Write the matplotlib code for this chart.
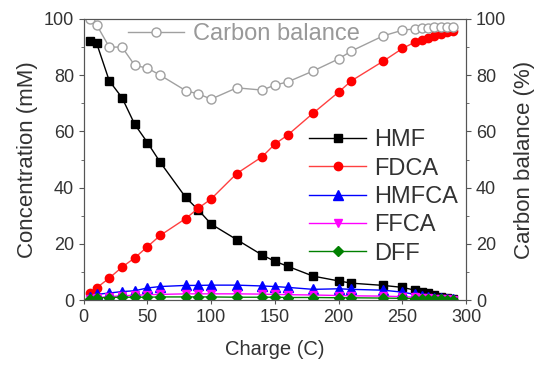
import matplotlib.pyplot as plt
from matplotlib.ticker import MultipleLocator

plt.rcParams['font.family'] = ['Liberation Sans', 'DejaVu Sans']

##### Data #####
charge = [5, 10, 20, 30, 40, 50, 60, 80, 90, 100, 120, 140, 150, 160, 180,
          200, 210, 235, 250, 260, 265, 270, 275, 280, 285, 290]
hmf = [92, 91.5, 78, 72, 62.5, 56, 49, 36.5, 32, 27, 21.5, 16, 13.8, 12, 8.5,
       6.8, 6, 5.2, 4.5, 3.5, 3, 2.5, 1.8, 1.2, 0.7, 0.3]
fdca = [2.4, 4.3, 7.8, 11.7, 15, 19, 23, 29, 32.7, 36, 45, 51, 55.5, 58.7, 66.5,
        74, 78, 85, 89.5, 91.8, 92.5, 93.3, 94, 94.6, 95.2, 95.8]
hmfca = [1.2, 2, 2.5, 3, 3.3, 4.3, 4.8, 5.2, 5.2, 5.3, 5.3, 5, 4.8, 4.5, 3.8,
         4, 3.8, 3.5, 2.8, 2, 1.6, 1.2, 0.9, 0.6, 0.4, 0.2]
ffca = [0.4, 0.8, 1.2, 1.5, 1.7, 1.9, 2.0, 2.2, 2.2, 2.2, 2.2, 2.1, 2.0, 1.9, 1.8,
        1.6, 1.5, 1.4, 1.2, 1.0, 0.8, 0.6, 0.5, 0.3, 0.2, 0.1]
dff = [0.5, 0.8, 0.9, 1.0, 1.0, 1.0, 1.1, 1.1, 1.1, 1.1, 1.0, 1.0, 1.0, 0.9, 0.9,
       0.8, 0.8, 0.7, 0.6, 0.5, 0.4, 0.3, 0.3, 0.2, 0.1, 0.1]
carbon = [100, 98, 90, 90, 83.5, 82.5, 80, 74.5, 73.3, 71.5, 75.5, 74.7, 76.5, 77.6, 81.5,
          85.8, 88.6, 94, 96, 96.5, 96.7, 96.8, 97, 97, 97, 97]

##### Plot #####
fig = plt.figure(figsize=(5.37, 3.65), dpi=100)
ax = fig.add_axes([0.156, 0.178, 0.712, 0.770])
ax2 = ax.twinx()

ax.plot(charge, hmf, '-s', color='black', lw=1, ms=5.5, label='HMF')
ax.plot(charge, fdca, '-o', color='#ff4040', mfc='#ff0000', mec='#ff0000', lw=1,
        ms=6, label='FDCA')
ax.plot(charge, hmfca, '-^', color='#0000ff', lw=1, ms=6.5, label='HMFCA')
ax.plot(charge, ffca, '-v', color='#ff00ff', lw=1, ms=6, label='FFCA')
ax.plot(charge, dff, '-D', color='#008000', lw=1, ms=5, label='DFF')
ax2.plot(charge, carbon, '-o', color='#a0a0a0', mfc='white', mec='#a0a0a0', lw=1,
         ms=6.5, label='Carbon balance')

ax.set_xlim(0, 300)
ax.set_ylim(0, 100)
ax2.set_ylim(0, 100)

txt = '#333333'
for a in (ax, ax2):
    for s in a.spines.values():
        s.set_color('#555555')
    a.tick_params(which='both', direction='out', colors='#555555', labelcolor=txt,
                  labelsize=13)
    a.yaxis.set_minor_locator(MultipleLocator(10))
ax.tick_params(axis='x', which='major', length=3)
ax.xaxis.set_major_locator(MultipleLocator(50))
ax.yaxis.set_major_locator(MultipleLocator(20))
ax2.yaxis.set_major_locator(MultipleLocator(20))

ax.set_xlabel('Charge (C)', fontsize=14.5, color=txt, labelpad=10)
ax.set_ylabel('Concentration (mM)', fontsize=16, color=txt, labelpad=4)
ax2.set_ylabel('Carbon balance (%)', fontsize=16, color=txt, labelpad=6)

leg = ax.legend(loc='center left', bbox_to_anchor=(0.59, 0.367), frameon=False,
                fontsize=17, handlelength=2.4, handletextpad=0.35, labelspacing=0.27,
                borderpad=0, borderaxespad=0)
for t in leg.get_texts():
    t.set_color(txt)
leg2 = ax2.legend(loc='center left', bbox_to_anchor=(0.115, 0.945), frameon=False,
                  fontsize=17, handlelength=2.4, handletextpad=0.35,
                  borderpad=0, borderaxespad=0)
for t in leg2.get_texts():
    t.set_color('#999999')

fig.savefig('out.png', dpi=100)
